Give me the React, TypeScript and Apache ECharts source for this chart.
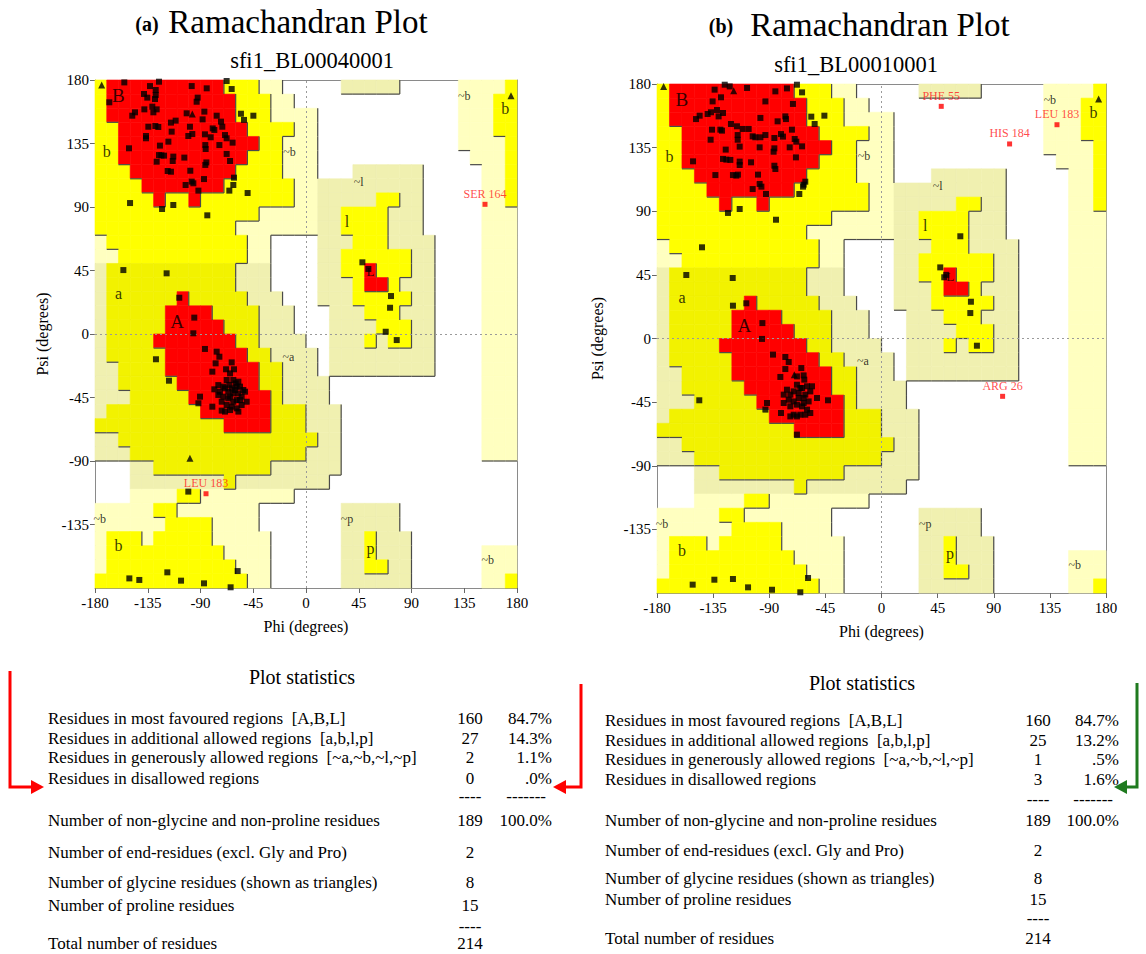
import React, { useEffect, useRef } from 'react';
import * as echarts from 'echarts';

const SERIF = '"Liberation Serif", "Times New Roman", Times, serif';

// Region map, 10-degree cells, rows from psi 180 down to -180, columns from phi -180 to 180 (run-length: code+count)
const REGION_ROWS: string[] = [
  'Y1 R10 Y3 P2 .5 G5 .5 P4 Y1',
  'Y1 R11 Y3 P2 .14 P3 Y2',
  'Y1 R11 Y3 P4 .12 P3 Y2',
  'Y2 R11 Y4 P2 .12 P3 Y2',
  'Y2 R12 Y2 P3 .12 P4 Y1',
  'Y2 R11 Y3 P3 .13 P3 Y1',
  'Y3 R9 Y4 P3 .3 G6 .5 P2 Y1',
  'Y4 R7 Y6 P2 G9 .5 P2 Y1',
  'Y5 R1 Y2 R1 Y8 P2 G5 Y2 G2 .5 P2 Y1',
  'Y14 P5 G2 Y4 G3 .5 P3',
  'Y12 P7 G2 Y4 G3 .5 P3',
  'P1 Y12 P2 .4 G3 Y3 G4 .4 P3',
  'P2 Y11 P2 .4 G2 Y6 G2 .4 P3',
  'G1 A11 G3 .4 G2 Y2 R1 Y3 G2 .4 P3',
  'G1 A11 G3 .4 G3 Y1 R2 Y1 G3 .4 P3',
  'G1 A6 R1 A5 G3 .3 G3 Y5 G2 .4 P3',
  'G1 A5 R4 A4 G3 .3 G3 Y3 G3 .4 P3',
  'G1 A5 R5 A3 G3 .3 G4 Y3 G2 .4 P3',
  'G1 A4 R7 A2 G4 .2 G3 Y1 G1 Y2 G2 .4 P3',
  'G1 A5 R7 A2 G4 .1 G9 .4 P3',
  'G2 A4 R8 A2 G3 .1 G9 .4 P3',
  'G2 A5 R7 A2 G4 .13 P3',
  'G3 A5 R7 A1 G4 .13 P3',
  'G1 A8 R6 A3 G3 .12 P3',
  'A11 R4 A3 G3 .12 P3',
  'G2 A17 G2 .12 P3',
  'G3 A15 G3 .12 P3',
  '.3 G2 A10 G6 .15',
  '.3 G8 A1 G8 .16',
  '.3 P4 Y2 P8 .19',
  'P5 Y2 P7 .7 G5 .10',
  'P6 Y4 P4 .7 G5 .10',
  'P1 Y3 P1 Y5 P5 .6 G2 Y1 G3 .9',
  'P1 Y10 P4 .6 G2 Y1 G3 .6 P3',
  'P1 Y11 P3 .6 G2 Y2 G2 .6 P3',
  'Y13 P2 .6 G6 .6 P2 Y1',
];
const REGION_CODES = ['R', 'Y', 'A', 'G', 'P'];
const REGION_FILL: Record<string, string> = { R: '#ff0000', Y: '#ffff00', A: '#f2f200', G: '#f0f0b0', P: '#ffffc0' };
const REGION_LEVEL: Record<string, number> = { R: 3, Y: 2, A: 2, G: 1, P: 1, '.': 0 };

// Region labels [text, phi, psi]
const REGION_LABELS: [string, number, number][] = [
  ['B', -160, 169], ['b', -170, 129], ['~b', -14, 129], ['a', -160, 29], ['A', -110, 9],
  ['~b', 135, 169], ['b', 170, 160], ['~l', 45, 108], ['l', 35, 80], ['L', 55, 44],
  ['~a', -15, -16], ['~b', -176, -131], ['b', -160, -150], ['~p', 35, -131], ['p', 55, -152], ['~b', 155, -160],
];

// Plot (a) residues [phi, psi]
const POINTS_A: [number, number][] = [
  [-155.0, 178.3], [-125.4, 178.8], [-67.7, 179.3], [-63.4, 173.6], [-133.1, 175.7], [-128.2, 172.9], [-128.2, 169.4],
  [-128.8, 166.5], [-138.2, 170.1], [-135.4, 167.5], [-92.4, 167.5], [-93.3, 164.6], [-97.5, 175.7], [-84.7, 174.1],
  [-101.8, 156.4], [-167.8, 164.2], [-145.9, 157.1], [-148.2, 154.7], [-137.9, 159.2], [-131.1, 161.1], [-127.4, 159.2],
  [-130.2, 157.1], [-86.7, 157.6], [-76.2, 154.7], [-55.5, 156.1], [-44.9, 154.7], [-52.9, 151.7], [-72.5, 150.5],
  [-71.4, 146.9], [-88.2, 152.1], [-134.5, 146.9], [-128.5, 147.4], [-126.0, 146.7], [-115.2, 149.8], [-111.2, 151.2],
  [-99.0, 146.9], [-114.6, 143.4], [-136.5, 140.3], [-136.5, 138.7], [-100.4, 140.3], [-97.0, 141.7], [-86.2, 141.5],
  [-79.6, 145.7], [-78.2, 144.6], [-81.3, 139.4], [-69.1, 141.0], [-67.7, 138.7], [-62.6, 135.6], [-73.9, 133.9],
  [-151.0, 131.6], [-124.6, 133.5], [-117.4, 136.3], [-125.4, 126.8], [-123.4, 126.6], [-121.1, 126.4], [-113.2, 125.7],
  [-113.7, 122.6], [-127.4, 122.1], [-103.8, 125.0], [-85.9, 133.9], [-85.6, 131.1], [-85.0, 121.6], [-85.9, 119.8],
  [-67.7, 127.6], [-64.8, 122.6], [-118.0, 115.5], [-115.2, 115.0], [-98.7, 115.7], [-87.0, 109.8], [-97.5, 108.0],
  [-96.1, 106.8], [-102.7, 105.6], [-91.8, 101.6], [-61.4, 110.8], [-62.0, 105.6], [-65.4, 101.6], [-49.8, 99.9],
  [-150.1, 92.8], [-113.2, 91.4], [-122.8, 88.6], [-84.2, 84.1], [-155.8, 45.3], [-118.9, 43.0], [-108.1, 25.7],
  [-95.3, 11.6], [-96.1, 0.5],
  [-86.2, -10.6], [-76.2, -12.5], [-73.9, -16.1], [-77.1, -20.8], [-63.4, -20.1], [-128.0, -17.9], [-116.9, -33.1],
  [-79.9, -26.7], [-68.2, -25.0], [-64.8, -27.9], [-61.4, -25.0],
  [-74.8, -36.2], [-78.2, -39.2], [-70.5, -37.3], [-67.7, -32.6], [-62.0, -32.6], [-57.7, -33.8], [-59.1, -37.3],
  [-66.3, -40.9], [-62.0, -42.1], [-57.7, -42.1], [-52.0, -40.9], [-54.9, -44.4], [-59.1, -46.8], [-64.8, -44.4],
  [-70.5, -44.4], [-74.8, -43.2], [-71.9, -48.0], [-67.7, -50.3], [-63.4, -51.5], [-59.1, -52.7], [-54.9, -50.3],
  [-50.6, -48.0], [-90.4, -44.4], [-91.8, -49.1], [-79.9, -51.5], [-71.9, -54.3], [-69.1, -55.0], [-64.8, -53.9],
  [-57.7, -55.0], [-69.1, -38.5], [-65.4, -36.1], [-63.4, -38.5], [-60.6, -39.7], [-56.3, -37.3], [-53.5, -39.7],
  [-60.0, -35.0], [-66.3, -45.6], [-62.0, -48.0], [-56.3, -46.8], [-73.4, -40.9],
  [-100.4, -111.7], [-150.7, -173.2], [-142.2, -174.3], [-118.3, -168.9], [-106.6, -174.8], [-87.0, -176.7],
  [-64.3, -179.5], [-58.3, -168.0],
  [48.1, 50.8], [53.2, 46.1], [72.5, 26.9], [71.7, 18.6], [68.0, 1.6], [77.4, -4.3],
];
const GLY_A: [number, number][] = [[-174.3, 176.5], [-97.0, 155.9], [174.9, 168.9], [-99.0, -88.1]];
const FLAGGED_A: [number, number, string][] = [[152.7, 91.9, 'SER 164'], [-85.3, -113.2, 'LEU 183']];

// Plot (b) residues [phi, psi]
const POINTS_B: [number, number][] = [
  [-125.7, 179.5], [-121.7, 178.3], [-107.8, 177.2], [-133.8, 176.0], [-128.7, 170.6], [-135.4, 167.7], [-93.1, 167.7],
  [-85.1, 174.8], [-75.8, 176.9], [-67.8, 179.5], [-63.7, 174.1], [-71.0, 165.9], [-148.7, 155.2], [-145.8, 157.6],
  [-139.4, 158.8], [-136.7, 160.0], [-131.9, 161.6], [-130.6, 157.1], [-127.1, 159.5], [-135.9, 147.7], [-129.2, 147.7],
  [-127.9, 147.0], [-120.7, 151.7], [-115.9, 150.1], [-115.3, 143.9], [-111.3, 148.2], [-106.5, 148.2], [-97.1, 156.0],
  [-83.3, 153.6], [-77.1, 157.1], [-76.6, 155.2], [-71.8, 147.7], [-56.3, 156.9], [-53.6, 151.7], [-45.8, 157.6],
  [-137.0, 140.6], [-115.3, 140.6], [-113.7, 135.7], [-103.3, 143.0], [-101.2, 142.3], [-97.1, 142.3], [-93.1, 143.9],
  [-85.9, 141.8], [-80.6, 144.6], [-79.0, 142.8], [-69.6, 141.1], [-68.3, 139.2], [-73.6, 135.2], [-63.7, 135.9],
  [-68.6, 128.1], [-85.9, 134.5], [-86.5, 132.1], [-97.7, 135.2], [-124.9, 133.6], [-151.1, 125.3], [-127.1, 127.0],
  [-124.4, 126.5], [-121.2, 126.3], [-113.7, 125.1], [-113.7, 122.7], [-104.6, 124.6], [-85.9, 122.2], [-85.1, 119.9],
  [-133.2, 115.6], [-119.1, 115.6], [-116.4, 115.2], [-115.1, 115.9], [-99.0, 115.9], [-97.7, 109.3], [-96.3, 107.4],
  [-103.3, 105.7], [-92.6, 102.2], [-62.4, 108.8], [-61.1, 110.9], [-62.9, 107.4], [-65.9, 102.2], [-123.1, 88.8],
  [-113.7, 91.6], [-84.6, 84.0], [-143.9, 64.5], [-156.5, 44.9], [-119.3, 42.8], [-119.1, 23.2], [-108.4, 24.9],
  [-95.5, 10.9], [-95.8, -0.3],
  [63.2, 72.3], [47.1, 50.3], [50.3, 43.3], [51.9, 45.0], [71.7, 26.0], [71.2, 18.0], [76.5, -5.1],
  [-87.0, -11.4], [-77.1, -13.1], [-74.4, -16.6], [-77.1, -21.6], [-64.3, -20.9], [-81.1, -27.2], [-67.8, -26.8],
  [-62.4, -26.1], [-61.9, -29.1], [-146.1, -43.7], [-91.8, -45.6], [-93.1, -50.3], [-80.6, -52.7], [-67.8, -68.0],
  [-75.8, -36.2], [-73.1, -39.7], [-78.4, -39.7], [-67.8, -32.7], [-65.1, -35.0], [-59.7, -33.8], [-55.7, -33.8],
  [-57.1, -37.4], [-61.1, -39.7], [-66.4, -42.1], [-70.4, -44.5], [-74.4, -43.3], [-78.4, -45.6], [-73.1, -48.0],
  [-67.8, -46.8], [-62.4, -45.6], [-58.4, -44.5], [-51.7, -42.1], [-42.9, -43.7], [-59.7, -50.3], [-65.1, -53.9],
  [-61.1, -53.9], [-57.1, -52.7], [-70.4, -53.9], [-73.1, -55.1], [-67.8, -55.1], [-63.7, -35.0], [-70.4, -37.4],
  [-66.4, -38.6], [-62.4, -42.1], [-63.7, -48.0],
  [-151.4, -174.1], [-134.0, -170.6], [-119.1, -170.1], [-107.0, -176.0], [-87.8, -177.7], [-65.1, -179.5], [-58.9, -169.4],
];
const GLY_B: [number, number][] = [[-174.7, 178.3], [-118.5, 175.3], [174.1, 169.4], [-69.9, -25.6]];
const FLAGGED_B: [number, number, string][] = [
  [47.9, 164.2, 'PHE 55'], [102.7, 137.6, 'HIS 184'], [140.7, 151.2, 'LEU 183'], [97.1, -40.9, 'ARG 26'],
];

const PLOT_TAGS = ['(a)', '(b)'];
const PLOT_TITLE = 'Ramachandran Plot';
const PLOT_NAMES = ['sfi1_BL00040001', 'sfi1_BL00010001'];

// Plot statistics
const STAT_HEADING = 'Plot statistics';
const STAT_LABELS = [
  'Residues in most favoured regions  [A,B,L]',
  'Residues in additional allowed regions  [a,b,l,p]',
  'Residues in generously allowed regions  [~a,~b,~l,~p]',
  'Residues in disallowed regions',
  '',
  'Number of non-glycine and non-proline residues',
  'Number of end-residues (excl. Gly and Pro)',
  'Number of glycine residues (shown as triangles)',
  'Number of proline residues',
  '',
  'Total number of residues',
];
const STAT_COUNTS_A = ['160', '27', '2', '0', '----', '189', '2', '8', '15', '----', '214'];
const STAT_PCTS_A = ['84.7%', '14.3%', '1.1%', '.0%', '-------', '100.0%', '', '', '', '', ''];
const STAT_COUNTS_B = ['160', '25', '1', '3', '----', '189', '2', '8', '15', '----', '214'];
const STAT_PCTS_B = ['84.7%', '13.2%', '.5%', '1.6%', '-------', '100.0%', '', '', '', '', ''];

// Layout (positions only)
const GRIDS = [
  { left: 95, top: 80, width: 422, height: 508, psiGap: 45 },
  { left: 657, top: 84, width: 449, height: 509, psiGap: 52 },
];
const TITLE_POS = [
  { tag: [147, 24], title: [298, 22], name: [312, 60] },
  { tag: [721, 26], title: [880, 25], name: [856, 64] },
];
const STAT_POS = [
  { labelX: 48, countX: 470, pctRight: 552, headX: 302, headY: 677, rowY: [718, 738, 757, 778, 796, 820, 852, 882, 905, 926, 943] },
  { labelX: 605, countX: 1038, pctRight: 1119, headX: 862, headY: 683, rowY: [720, 740, 759, 779, 799, 820, 850, 878, 899, 918, 938] },
];

function decodeRow(row: string): string {
  return row.split(' ').map((t) => t[0].repeat(parseInt(t.slice(1), 10))).join('');
}

function buildCells() {
  const grid = REGION_ROWS.map(decodeRow);
  const out: number[][] = [];
  for (let j = 0; j < 36; j++) {
    for (let k = 0; k < 36; k++) {
      const c = grid[j][k];
      if (!c || c === '.') continue;
      const lv = REGION_LEVEL[c];
      const right = k < 35 && REGION_LEVEL[grid[j][k + 1]] < lv ? 1 : 0;
      const bottom = j < 35 && REGION_LEVEL[grid[j + 1][k]] < lv ? 1 : 0;
      out.push([-180 + 10 * k, 170 - 10 * j, REGION_CODES.indexOf(c), right, bottom]);
    }
  }
  return out;
}

function labelSize(t: string) {
  if (t === 'A' || t === 'B') return 19;
  if (t === 'L') return 13;
  if (t.startsWith('~')) return 12;
  return 16;
}

function buildOption() {
  const cells = buildCells();
  const xAxis: any[] = [];
  const yAxis: any[] = [];
  const series: any[] = [];
  const graphic: any[] = [];
  const axisLineStyle = { color: '#8a8a8a', width: 1 };

  GRIDS.forEach((g, p) => {
    xAxis.push({
      gridIndex: p, type: 'value', min: -180, max: 180, interval: 45, position: 'bottom',
      name: 'Phi (degrees)', nameLocation: 'middle', nameGap: 30,
      nameTextStyle: { fontFamily: SERIF, fontSize: 16, color: '#000' },
      axisLine: { show: true, onZero: false, lineStyle: axisLineStyle },
      axisTick: { show: true, length: 5, lineStyle: { color: '#666' } },
      axisLabel: { fontFamily: SERIF, fontSize: 15, color: '#000', margin: 7 },
      splitLine: { show: false },
    });
    xAxis.push({
      gridIndex: p, type: 'value', min: -180, max: 180, interval: 45, position: 'top',
      axisLine: { show: true, onZero: false, lineStyle: axisLineStyle },
      axisTick: { show: false }, axisLabel: { show: false }, splitLine: { show: false },
    });
    yAxis.push({
      gridIndex: p, type: 'value', min: -180, max: 180, interval: 45, position: 'left',
      name: 'Psi (degrees)', nameLocation: 'middle', nameGap: g.psiGap,
      nameTextStyle: { fontFamily: SERIF, fontSize: 16, color: '#000' },
      axisLine: { show: true, onZero: false, lineStyle: axisLineStyle },
      axisTick: { show: true, length: 5, lineStyle: { color: '#666' } },
      axisLabel: { fontFamily: SERIF, fontSize: 15, color: '#000', margin: 6, showMinLabel: false },
      splitLine: { show: false },
    });
    yAxis.push({
      gridIndex: p, type: 'value', min: -180, max: 180, interval: 45, position: 'right',
      axisLine: { show: true, onZero: false, lineStyle: axisLineStyle },
      axisTick: { show: false }, axisLabel: { show: false }, splitLine: { show: false },
    });
    const xi = 2 * p;
    const yi = 2 * p;
    series.push({
      type: 'custom', xAxisIndex: xi, yAxisIndex: yi, z: 1, silent: true,
      encode: { x: 0, y: 1 },
      data: cells,
      renderItem: (_params: any, api: any) => {
        const phi = api.value(0);
        const psi = api.value(1);
        const tl = api.coord([phi, psi + 10]);
        const br = api.coord([phi + 10, psi]);
        const fill = REGION_FILL[REGION_CODES[api.value(2)]];
        const children: any[] = [{
          type: 'rect', z2: 0,
          shape: { x: tl[0], y: tl[1], width: br[0] - tl[0], height: br[1] - tl[1] },
          style: { fill, stroke: fill, lineWidth: 0.6 },
        }];
        if (api.value(3)) {
          children.push({ type: 'line', z2: 5, shape: { x1: br[0], y1: tl[1], x2: br[0], y2: br[1] }, style: { stroke: '#4a4a4a', lineWidth: 1.2 } });
        }
        if (api.value(4)) {
          children.push({ type: 'line', z2: 5, shape: { x1: tl[0], y1: br[1], x2: br[0], y2: br[1] }, style: { stroke: '#4a4a4a', lineWidth: 1.2 } });
        }
        return { type: 'group', children };
      },
    });
    series.push({
      type: 'scatter', xAxisIndex: xi, yAxisIndex: yi, z: 3, silent: true,
      symbolSize: 1, itemStyle: { color: 'rgba(0,0,0,0)' },
      data: REGION_LABELS.map(([t, phi, psi]) => ({
        value: [phi, psi], name: t,
        label: { fontSize: labelSize(t) },
      })),
      label: { show: true, position: 'inside', formatter: '{b}', fontFamily: SERIF, color: '#000' },
      markLine: {
        silent: true, symbol: ['none', 'none'], label: { show: false },
        lineStyle: { type: [2, 3], color: '#9a9a9a', width: 1 },
        data: [{ xAxis: 0 }, { yAxis: 0 }],
      },
    });
    const pts = p === 0 ? POINTS_A : POINTS_B;
    const gly = p === 0 ? GLY_A : GLY_B;
    const flagged = p === 0 ? FLAGGED_A : FLAGGED_B;
    series.push({
      type: 'scatter', xAxisIndex: xi, yAxisIndex: yi, z: 5, silent: true,
      symbol: 'rect', symbolSize: 6, itemStyle: { color: '#000' }, data: pts,
    });
    series.push({
      type: 'scatter', xAxisIndex: xi, yAxisIndex: yi, z: 5, silent: true,
      symbol: 'triangle', symbolSize: 7, itemStyle: { color: '#000' }, data: gly,
    });
    series.push({
      type: 'scatter', xAxisIndex: xi, yAxisIndex: yi, z: 6, silent: true,
      symbol: 'rect', symbolSize: 5, itemStyle: { color: '#ff0000' },
      data: flagged.map(([phi, psi, n]) => ({ value: [phi, psi], name: n })),
      label: { show: true, position: 'top', distance: 2, formatter: '{b}', fontFamily: SERIF, fontSize: 12, color: '#ff1a1a' },
    });

    // titles
    const tp = TITLE_POS[p];
    graphic.push({ type: 'text', x: tp.tag[0], y: tp.tag[1], style: { text: PLOT_TAGS[p], fontFamily: SERIF, fontSize: 20, fontWeight: 'bold', fill: '#000', align: 'center', verticalAlign: 'middle' } });
    graphic.push({ type: 'text', x: tp.title[0], y: tp.title[1], style: { text: PLOT_TITLE, fontFamily: SERIF, fontSize: 33, fill: '#000', align: 'center', verticalAlign: 'middle' } });
    graphic.push({ type: 'text', x: tp.name[0], y: tp.name[1], style: { text: PLOT_NAMES[p], fontFamily: SERIF, fontSize: 22.5, fill: '#000', align: 'center', verticalAlign: 'middle' } });

    // statistics
    const sp = STAT_POS[p];
    const counts = p === 0 ? STAT_COUNTS_A : STAT_COUNTS_B;
    const pcts = p === 0 ? STAT_PCTS_A : STAT_PCTS_B;
    graphic.push({ type: 'text', x: sp.headX, y: sp.headY, style: { text: STAT_HEADING, fontFamily: SERIF, fontSize: 20, fill: '#000', align: 'center', verticalAlign: 'middle' } });
    STAT_LABELS.forEach((lab, i) => {
      const y = sp.rowY[i];
      if (lab) graphic.push({ type: 'text', x: sp.labelX, y, style: { text: lab, fontFamily: SERIF, fontSize: 17, fill: '#000', align: 'left', verticalAlign: 'middle' } });
      if (counts[i]) graphic.push({ type: 'text', x: sp.countX, y, style: { text: counts[i], fontFamily: SERIF, fontSize: 17, fill: '#000', align: 'center', verticalAlign: 'middle' } });
      if (pcts[i]) {
        const dash = pcts[i].startsWith('-');
        graphic.push({ type: 'text', x: dash ? sp.pctRight - 6 : sp.pctRight, y, style: { text: pcts[i], fontFamily: SERIF, fontSize: 17, fill: '#000', align: 'right', verticalAlign: 'middle' } });
      }
    });
  });

  // arrows pointing at the disallowed-region rows
  const arrow = (pts: number[][], tip: number[], dir: number, color: string) => {
    graphic.push({ type: 'polyline', shape: { points: pts }, style: { stroke: color, lineWidth: 3, fill: null } });
    graphic.push({
      type: 'polygon',
      shape: { points: [tip, [tip[0] - dir * 13, tip[1] - 7], [tip[0] - dir * 13, tip[1] + 7]] },
      style: { fill: color },
    });
  };
  arrow([[10, 671], [10, 787], [32, 787]], [44, 787], 1, '#ff0000');
  arrow([[581, 684], [581, 787], [565, 787]], [553, 787], -1, '#ff0000');
  arrow([[1137, 683], [1137, 787], [1126, 787]], [1114, 787], -1, '#1f7a1f');

  return {
    animation: false,
    backgroundColor: '#ffffff',
    grid: GRIDS.map((g) => ({ left: g.left, top: g.top, width: g.width, height: g.height, containLabel: false })),
    xAxis,
    yAxis,
    series,
    graphic,
  };
}

export default function App() {
  const ref = useRef<HTMLDivElement>(null);
  useEffect(() => {
    if (!ref.current) return;
    const chart = echarts.init(ref.current, undefined, { renderer: 'svg' });
    chart.setOption(buildOption() as any);
    return () => chart.dispose();
  }, []);
  return <div ref={ref} style={{ position: 'absolute', left: 0, top: 0, width: 1146, height: 954, background: '#fff' }} />;
}
